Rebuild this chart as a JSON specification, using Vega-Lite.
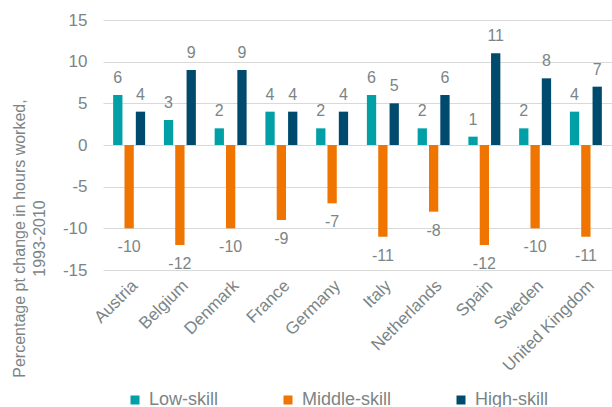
{
  "$schema": "https://vega.github.io/schema/vega-lite/v6.json",
  "width": 509,
  "height": 250,
  "autosize": {"type": "none"},
  "padding": {"left": 103, "top": 20, "right": 0, "bottom": 137},
  "background": "white",
  "config": {
    "view": {"stroke": null},
    "font": "Liberation Sans",
    "text": {"font": "Liberation Sans"}
  },
  "data": {
    "values": [
      {"country": "Austria", "skill": "Low-skill", "value": 6},
      {"country": "Austria", "skill": "Middle-skill", "value": -10},
      {"country": "Austria", "skill": "High-skill", "value": 4},
      {"country": "Belgium", "skill": "Low-skill", "value": 3},
      {"country": "Belgium", "skill": "Middle-skill", "value": -12},
      {"country": "Belgium", "skill": "High-skill", "value": 9},
      {"country": "Denmark", "skill": "Low-skill", "value": 2},
      {"country": "Denmark", "skill": "Middle-skill", "value": -10},
      {"country": "Denmark", "skill": "High-skill", "value": 9},
      {"country": "France", "skill": "Low-skill", "value": 4},
      {"country": "France", "skill": "Middle-skill", "value": -9},
      {"country": "France", "skill": "High-skill", "value": 4},
      {"country": "Germany", "skill": "Low-skill", "value": 2},
      {"country": "Germany", "skill": "Middle-skill", "value": -7},
      {"country": "Germany", "skill": "High-skill", "value": 4},
      {"country": "Italy", "skill": "Low-skill", "value": 6},
      {"country": "Italy", "skill": "Middle-skill", "value": -11},
      {"country": "Italy", "skill": "High-skill", "value": 5},
      {"country": "Netherlands", "skill": "Low-skill", "value": 2},
      {"country": "Netherlands", "skill": "Middle-skill", "value": -8},
      {"country": "Netherlands", "skill": "High-skill", "value": 6},
      {"country": "Spain", "skill": "Low-skill", "value": 1},
      {"country": "Spain", "skill": "Middle-skill", "value": -12},
      {"country": "Spain", "skill": "High-skill", "value": 11},
      {"country": "Sweden", "skill": "Low-skill", "value": 2},
      {"country": "Sweden", "skill": "Middle-skill", "value": -10},
      {"country": "Sweden", "skill": "High-skill", "value": 8},
      {"country": "United Kingdom", "skill": "Low-skill", "value": 4},
      {"country": "United Kingdom", "skill": "Middle-skill", "value": -11},
      {"country": "United Kingdom", "skill": "High-skill", "value": 7}
    ]
  },
  "encoding": {
    "x": {
      "field": "country",
      "type": "nominal",
      "sort": null,
      "scale": {"paddingInner": 0.37, "paddingOuter": 0.2},
      "axis": {
        "title": null,
        "labelAngle": -45,
        "labelAlign": "right",
        "labelBaseline": "top",
        "labelFontSize": 17,
        "labelColor": "#7b8585",
        "labelPadding": 7,
        "ticks": false,
        "domain": false,
        "grid": false
      }
    },
    "xOffset": {
      "field": "skill",
      "type": "nominal",
      "sort": ["Low-skill", "Middle-skill", "High-skill"],
      "scale": {"paddingInner": 0.18, "paddingOuter": 0}
    },
    "y": {
      "field": "value",
      "type": "quantitative",
      "scale": {"domain": [-15, 15], "nice": false, "zero": false},
      "axis": {
        "values": [-15, -10, -5, 0, 5, 10, 15],
        "labelExpr": "'' + datum.value",
        "title": ["Percentage pt change in hours worked,", "1993-2010"],
        "titleFontSize": 16,
        "titleFontWeight": "normal",
        "titleColor": "#7b8585",
        "titleLineHeight": 20,
        "titleBaseline": "middle",
        "titleX": -84,
        "titleY": 218,
        "labelFontSize": 17,
        "labelColor": "#7b8585",
        "labelPadding": 16,
        "ticks": false,
        "domain": false,
        "grid": true,
        "gridColor": "#d9d9d9",
        "gridWidth": 1
      }
    }
  },
  "layer": [
    {
      "mark": {"type": "bar"},
      "encoding": {
        "color": {
          "field": "skill",
          "type": "nominal",
          "sort": ["Low-skill", "Middle-skill", "High-skill"],
          "scale": {
            "domain": ["Low-skill", "Middle-skill", "High-skill"],
            "range": ["#00a0a6", "#f07400", "#004a6e"]
          },
          "legend": {
            "title": null,
            "orient": "none",
            "direction": "horizontal",
            "legendX": 23,
            "legendY": 371,
            "symbolType": "square",
            "symbolSize": 81,
            "symbolStrokeWidth": 0,
            "labelFontSize": 18,
            "labelColor": "#7b8585",
            "labelOffset": 5,
            "columnPadding": 60
          }
        }
      }
    },
    {
      "transform": [{"filter": "datum.value >= 0"}],
      "mark": {"type": "text", "baseline": "alphabetic", "dy": -12, "fontSize": 16, "color": "#7b8585"},
      "encoding": {"text": {"field": "value", "type": "nominal"}}
    },
    {
      "transform": [{"filter": "datum.value < 0"}],
      "mark": {"type": "text", "baseline": "alphabetic", "dy": 24, "fontSize": 16, "color": "#7b8585"},
      "encoding": {"text": {"field": "value", "type": "nominal"}}
    }
  ]
}
